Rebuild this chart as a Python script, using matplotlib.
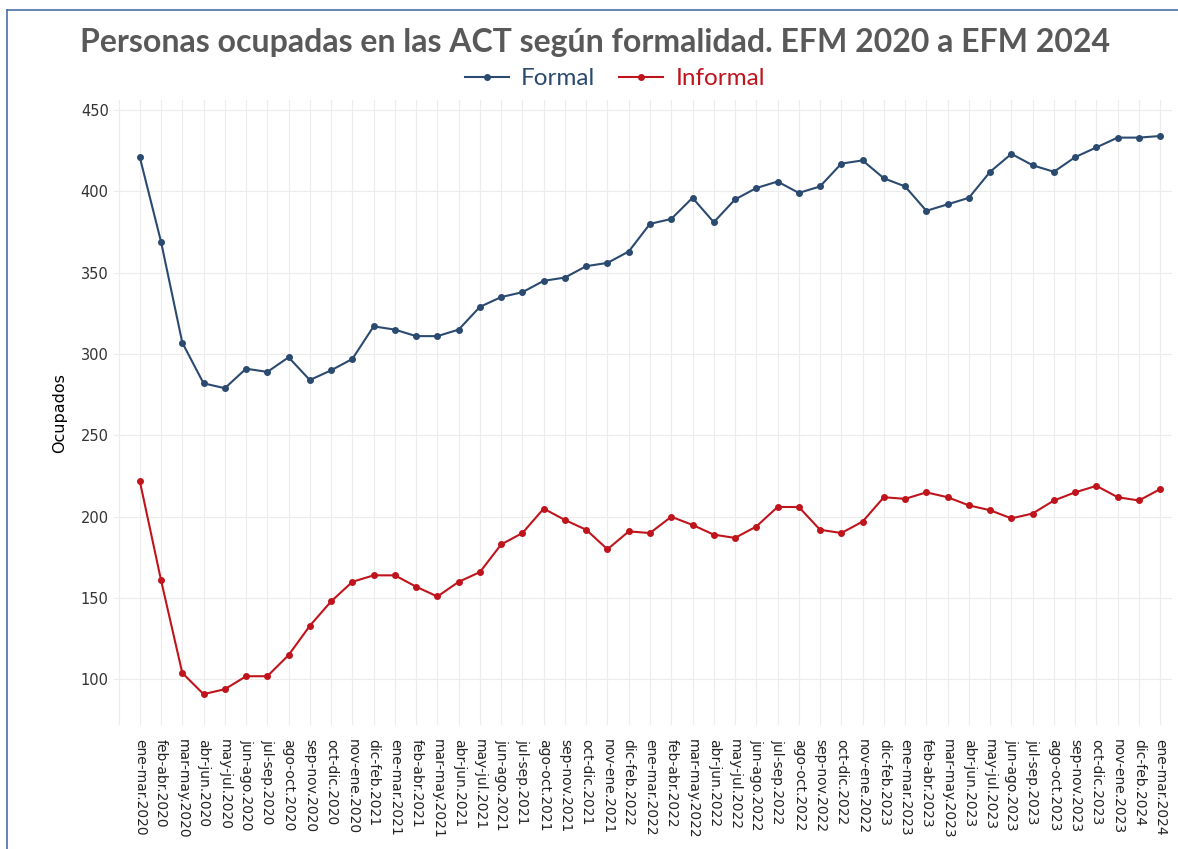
import numpy as np
import matplotlib.pyplot as plt
from matplotlib.lines import Line2D

periodos = ["ene-mar", "feb-abr", "mar-may", "abr-jun", "may-jul", "jun-ago",
            "jul-sep", "ago-oct", "sep-nov", "oct-dic", "nov-ene", "dic-feb"]
# año según la etiqueta original (nov-ene lleva el año de inicio, dic-feb el de término)
categorias = [periodos[i % 12] + "." + str(2020 + (i + 1) // 12) for i in range(49)]

formal = [421, 369, 307, 282, 279, 291, 289, 298, 284, 290, 297, 317, 315, 311, 311,
          315, 329, 335, 338, 345, 347, 354, 356, 363, 380, 383, 396, 381, 395, 402,
          406, 399, 403, 417, 419, 408, 403, 388, 392, 396, 412, 423, 416, 412, 421,
          427, 433, 433, 434]
informal = [222, 161, 104, 91, 94, 102, 102, 115, 133, 148, 160, 164, 164, 157, 151,
            160, 166, 183, 190, 205, 198, 192, 180, 191, 190, 200, 195, 189, 187, 194,
            206, 206, 192, 190, 197, 212, 211, 215, 212, 207, 204, 199, 202, 210, 215,
            219, 212, 210, 217]

c_formal = "#2b4a70"
c_informal = "#c0141c"

fig = plt.figure(figsize=(11.78, 8.49), dpi=100)
ax = fig.add_axes([0.097, 0.146, 0.898, 0.736])

x = np.arange(len(categorias))
ax.plot(x, formal, color=c_formal, lw=1.5, marker="o", ms=4, label="Formal")
ax.plot(x, informal, color=c_informal, lw=1.5, marker="o", ms=4, label="Informal")

ax.set_yticks(range(100, 451, 50))
ax.set_xticks(x)
ax.set_xticks([-1], minor=True)
ax.set_xticklabels(categorias, rotation=270, fontsize=10, color="#222222")
ax.set_xlim(-1.2, 48.56)
ax.set_ylim(72, 456)
ax.tick_params(axis="y", labelsize=10.5, labelcolor="#333333", length=0, pad=4)
ax.tick_params(axis="x", which="both", length=0, pad=10)
ax.grid(True, which="both", color="#ececec", lw=0.8)
ax.set_axisbelow(True)
for s in ax.spines.values():
    s.set_visible(False)
ax.set_ylabel("Ocupados", fontsize=11.5, labelpad=10)

fig.text(0.505, 0.95, "Personas ocupadas en las ACT según formalidad. EFM 2020 a EFM 2024",
         ha="center", va="center", fontsize=23, fontweight="bold", color="#595959",
         family="Lato")

leg = fig.legend(loc="center", bbox_to_anchor=(0.522, 0.907), ncol=2, frameon=False,
                 prop={"family": "Lato", "size": 17.5}, handlelength=1.8,
                 columnspacing=1.0, handletextpad=0.5, labelcolor="linecolor")

# marco azul
fig.add_artist(Line2D([0.006, 0.006], [0, 0.988], color="#4a6fa5", lw=1.2))
fig.add_artist(Line2D([0.006, 1.0], [0.988, 0.988], color="#4a6fa5", lw=1.2))

fig.savefig("out.png", dpi=100)
